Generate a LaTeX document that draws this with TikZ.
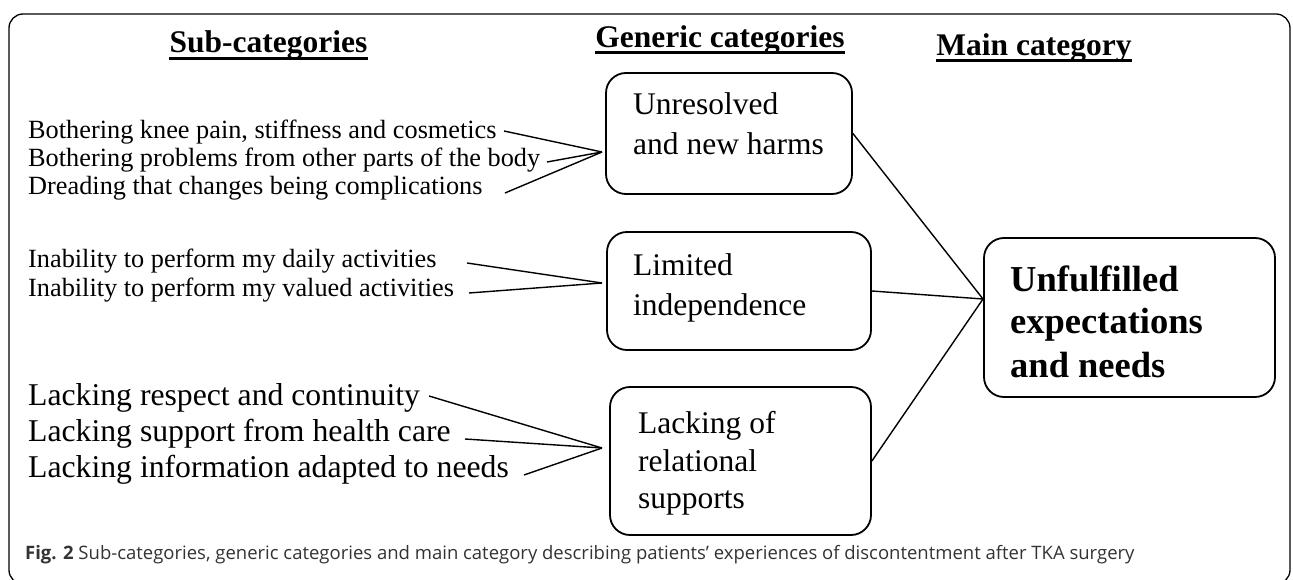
\documentclass[tikz,border=0pt]{standalone}
\usepackage{fontspec}
\setmainfont{Liberation Serif}
\newfontfamily\capfont{Open Sans}
\definecolor{capgray}{HTML}{333333}
\begin{document}
\begin{tikzpicture}[x=1pt,y=-1pt,
  hdr/.style={font=\fontsize{31.5}{36}\selectfont\bfseries, inner sep=0, anchor=base},
  uline/.style={line width=3},
  subs/.style={font=\fontsize{26.3}{28}\selectfont, inner sep=0, anchor=base west},
  subl/.style={font=\fontsize{31.7}{36}\selectfont, inner sep=0, anchor=base west},
  gbox/.style={draw, line width=1.8, rounded corners=20, inner sep=0},
  gtext/.style={font=\fontsize{31.5}{40}\selectfont, inner sep=0, anchor=base west},
  mtext/.style={font=\fontsize{36.5}{44}\selectfont\bfseries, inner sep=0, anchor=base west},
  conn/.style={line width=1.4},
  frame/.style={line width=1.3, rounded corners=14}]
\useasboundingbox (0,0) rectangle (1293,580);
\clip (0,0) rectangle (1293,580);
\draw[frame] (9,14) rectangle (1290,584);

% headers
\node[hdr] (h1) at (268.5,53) {Sub-categories};
\node[hdr] (h2) at (720,48) {Generic categories};
\node[hdr] (h3) at (1034,56) {Main category};
\draw[uline] ([yshift=-5.5pt]h1.base west) -- ([yshift=-5.5pt]h1.base east);
\draw[uline] ([yshift=-5pt]h2.base west) -- ([yshift=-5pt]h2.base east);
\draw[uline] ([yshift=-5pt]h3.base west) -- ([yshift=-5pt]h3.base east);

% generic category boxes
\node[gbox, minimum width=246, minimum height=121] (g1) at (729,133.5) {};
\node[gbox, minimum width=264, minimum height=118] (g2) at (739,291) {};
\node[gbox, minimum width=261, minimum height=148] (g3) at (740.5,461) {};
\node[gbox, minimum width=291, minimum height=159] (m) at (1129.5,317.5) {};

\node[gtext] (g1a) at (633,115) {Unresolved};
\node[gtext] (g1b) at (633,155) {and new harms};
\node[gtext] (g2a) at (633,276) {Limited};
\node[gtext] (g2b) at (633,315) {independence};
\node[gtext] (g3a) at (638,433) {Lacking of};
\node[gtext] (g3b) at (638,471) {relational};
\node[gtext] (g3c) at (638,508) {supports};
\node[mtext] (ma) at (1010,291) {Unfulfilled};
\node[mtext] (mb) at (1010,333) {expectations};
\node[mtext] (mc) at (1010,377) {and needs};

% sub-categories
\node[subs] (s11) at (28,139) {Bothering knee pain, stiffness and cosmetics};
\node[subs] (s12) at (28,167) {Bothering problems from other parts of the body};
\node[subs] (s13) at (28,195) {Dreading that changes being complications};
\node[subs] (s21) at (28,267) {Inability to perform my daily activities};
\node[subs] (s22) at (28,296) {Inability to perform my valued activities};
\node[subl] (s31) at (28,405) {Lacking respect and continuity};
\node[subl] (s32) at (28,441) {Lacking support from health care};
\node[subl] (s33) at (28,477) {Lacking information adapted to needs};

% connector end points
\coordinate (a11) at (504,131);
\coordinate (a12) at (547,162);
\coordinate (a13) at (505,193);
\coordinate (c1) at (602,152);
\coordinate (a21) at (467,263);
\coordinate (a22) at (469,293);
\coordinate (c2) at (602,283);
\coordinate (a31) at (429,396);
\coordinate (a32) at (465,439);
\coordinate (a33) at (524,475);
\coordinate (c3) at (602,448);
\coordinate (cm) at (983,299);

\draw[conn] (a11) -- (c1);
\draw[conn] (a12) -- (c1);
\draw[conn] (a13) -- (c1);
\draw[conn] (a21) -- (c2);
\draw[conn] (a22) -- (c2);
\draw[conn] (a31) -- (c3);
\draw[conn] (a32) -- (c3);
\draw[conn] (a33) -- (c3);

\draw[conn] (g1.east) -- (cm);
\draw[conn] (g2.east) -- (cm);
\draw[conn] (g3.east) -- (cm);

% caption
\node[anchor=base west, inner sep=0, text=capgray, font=\capfont\fontsize{18.5}{21}\selectfont] (cap) at (25,559)
  {\textbf{Fig. 2} Sub-categories, generic categories and main category describing patients’ experiences of discontentment after TKA surgery};
\end{tikzpicture}
\end{document}
